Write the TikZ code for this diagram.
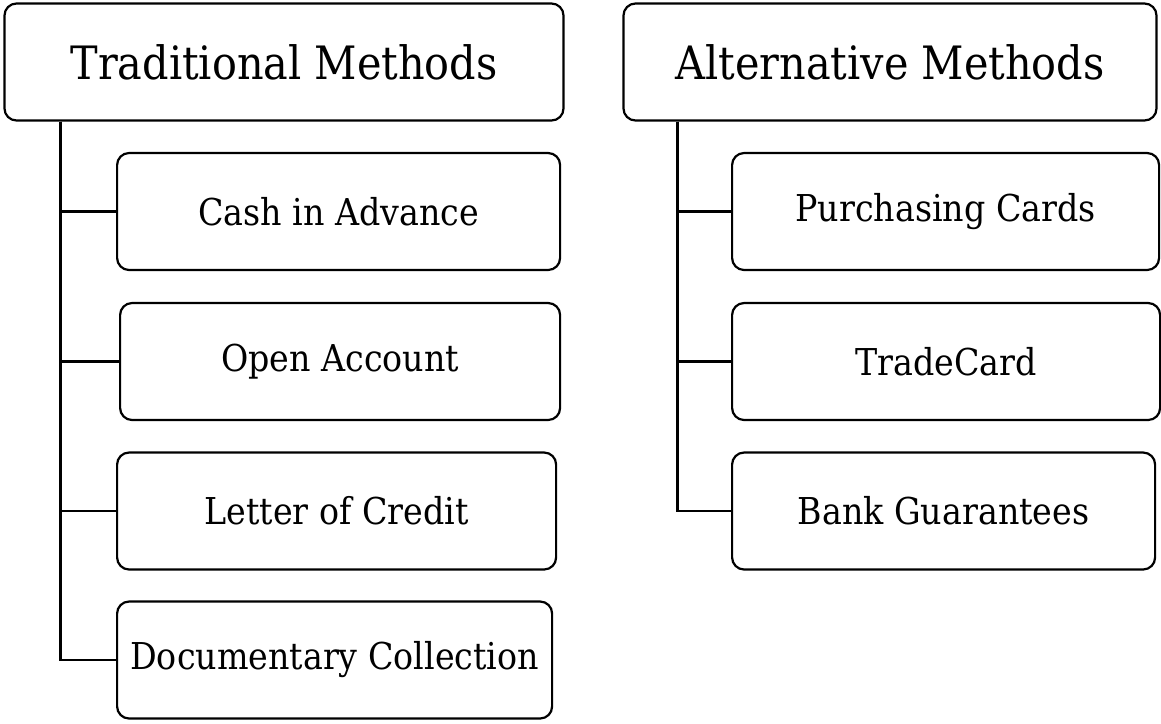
\documentclass[tikz,border=0pt]{standalone}
\usepackage{fontspec}
\setmainfont{DejaVu Serif Condensed}
\usetikzlibrary{positioning,calc}
\tikzset{
  grupo/.style={rectangle, draw, line width=2.2pt, rounded corners=12pt, align=center,
                font=\fontsize{46}{52}\selectfont, minimum height=117pt, inner sep=0pt},
  metodo/.style={rectangle, draw, line width=2.2pt, rounded corners=12pt, align=center,
                 font=\fontsize{37}{44}\selectfont, minimum height=117pt, inner sep=0pt, anchor=west},
  rama/.style={line width=2.2pt}
}

\begin{document}
\begin{tikzpicture}[x=1pt,y=-1pt]
\useasboundingbox (0,0) rectangle (1161,723);

\node[grupo,minimum width=559pt] (trad) at (284,62) {Traditional Methods};
\node[grupo,minimum width=533pt] (alt) at (890,62) {Alternative Methods};

\node[metodo,minimum width=443pt] (cash) at (116,211.5) {Cash in Advance};
\node[metodo,minimum width=440pt] (open) at (119,361.5) {Open Account};
\node[metodo,minimum width=439pt] (letter) at (116,511) {Letter of Credit};
\node[metodo,minimum width=435pt] (doc) at (116,660) {Documentary Collection};

\node[metodo,minimum width=427pt] (pcard) at (731,211.5) {Purchasing Cards};
\node[metodo,minimum width=428pt] (tcard) at (731,361.5) {TradeCard};
\node[metodo,minimum width=423pt] (bank) at (731,511) {Bank Guarantees};

\foreach \n in {cash,open,letter,doc}
  \draw[rama] ([xshift=57pt]trad.south west) |- (\n.west);
\foreach \n in {pcard,tcard,bank}
  \draw[rama] ([xshift=55pt]alt.south west) |- (\n.west);
\end{tikzpicture}
\end{document}
